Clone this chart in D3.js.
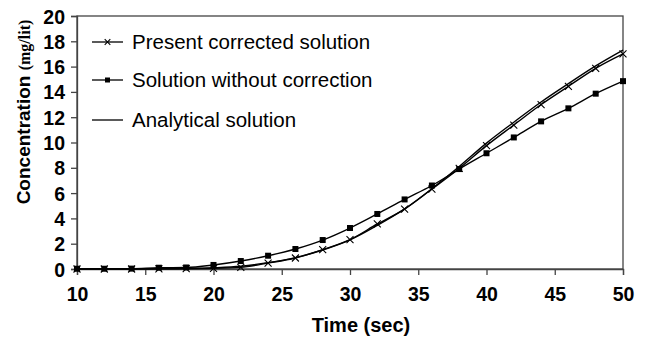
<!DOCTYPE html>
<html><head><meta charset="utf-8">
<script src="https://cdn.jsdelivr.net/npm/d3@7"></script>
<style>body{margin:0;background:#fff}</style>
</head><body>
<svg id="c" width="655" height="339"></svg>
<script>
const times = [10,12,14,16,18,20,22,24,26,28,30,32,34,36,38,40,42,44,46,48,50];
const presentCorrected = [0,0,0,0.01,0.03,0.05,0.13,0.47,0.87,1.53,2.32,3.56,4.74,6.32,7.95,9.75,11.38,13.0,14.44,15.86,17.0];
const withoutCorrection = [0.02,0.02,0.03,0.1,0.12,0.32,0.63,1.05,1.58,2.29,3.24,4.35,5.5,6.6,7.9,9.15,10.4,11.67,12.7,13.86,14.85];
const analytical = [0,0,0,0.01,0.04,0.1,0.22,0.5,0.9,1.5,2.3,3.45,4.75,6.35,8.1,9.95,11.6,13.2,14.65,16.05,17.3];
const xTicks = [10,15,20,25,30,35,40,45,50];
const yTicks = [0,2,4,6,8,10,12,14,16,18,20];
const legendLabels = ["Present corrected solution","Solution without correction","Analytical solution"];

const svg = d3.select("#c");
const L=77, R=623, T=16, B=269;
const x = d3.scaleLinear().domain([10,50]).range([L,R]);
const y = d3.scaleLinear().domain([0,20]).range([B,T]);

svg.append("rect").attr("x",L).attr("y",T).attr("width",R-L).attr("height",B-T)
  .attr("fill","none").attr("stroke","#444").attr("stroke-width",1.3);

const fontB = "Arial, 'Liberation Sans', sans-serif";
const xa = svg.append("g").attr("transform",`translate(0,${B})`)
  .call(d3.axisBottom(x).tickValues(xTicks).tickSize(6).tickPadding(6).tickFormat(d3.format("d")));
const ya = svg.append("g").attr("transform",`translate(${L},0)`)
  .call(d3.axisLeft(y).tickValues(yTicks).tickSize(6).tickPadding(6).tickFormat(d3.format("d")));
[xa,ya].forEach(a=>{
  a.select(".domain").attr("stroke","#444").attr("stroke-width",1.3);
  a.selectAll(".tick line").attr("stroke","#444").attr("stroke-width",1.3);
  a.selectAll("text").attr("font-family",fontB).attr("font-weight","bold").attr("font-size",19.5).attr("fill","#000");
});
xa.selectAll("text").attr("dy","1.05em");
ya.selectAll("text").attr("dy","0.36em");

const smooth = d3.line().x((d,i)=>x(times[i])).y(d=>y(d)).curve(d3.curveMonotoneX);

svg.append("path").datum(analytical).attr("d",smooth).attr("fill","none").attr("stroke","#000").attr("stroke-width",1.4);
svg.append("path").datum(withoutCorrection).attr("d",smooth).attr("fill","none").attr("stroke","#000").attr("stroke-width",1.4);
svg.append("path").datum(presentCorrected).attr("d",smooth).attr("fill","none").attr("stroke","#000").attr("stroke-width",1.4);

const s=3;
svg.append("g").selectAll("rect").data(withoutCorrection).join("rect")
  .attr("x",(d,i)=>x(times[i])-s).attr("y",d=>y(d)-s).attr("width",2*s).attr("height",2*s).attr("fill","#000");
function cross(g,cx,cy,r){
  g.append("path").attr("d",`M${cx-r},${cy-r}L${cx+r},${cy+r}M${cx-r},${cy+r}L${cx+r},${cy-r}`)
   .attr("stroke","#000").attr("stroke-width",1.1);
}
const cg = svg.append("g");
presentCorrected.forEach((d,i)=>cross(cg,x(times[i]),y(d),3.5));

const lg = svg.append("g");
const rows=[42,80,120];
rows.forEach((ry,i)=>{
  lg.append("line").attr("x1",92).attr("x2",123).attr("y1",ry).attr("y2",ry).attr("stroke","#000").attr("stroke-width",1.3);
  if(i===0) cross(lg,107.5,ry,2.8);
  if(i===1) lg.append("rect").attr("x",105).attr("y",ry-2.5).attr("width",5).attr("height",5).attr("fill","#000");
  lg.append("text").attr("x",132).attr("y",ry).attr("dy","0.36em").attr("font-family",fontB)
    .attr("font-size",20.5).text(legendLabels[i]);
});

svg.append("text").attr("x",361).attr("y",332).attr("text-anchor","middle")
  .attr("font-family",fontB).attr("font-weight","bold").attr("font-size",20).text("Time (sec)");
const yt = svg.append("text").attr("transform","translate(30,112) rotate(-90)").attr("text-anchor","middle")
  .attr("font-family",fontB).attr("font-weight","bold").attr("font-size",19);
yt.append("tspan").text("Concentration ");
yt.append("tspan").attr("font-family","'Liberation Serif','Times New Roman',serif").attr("font-size",16).text("(mg/lit)");
</script>
</body></html>
